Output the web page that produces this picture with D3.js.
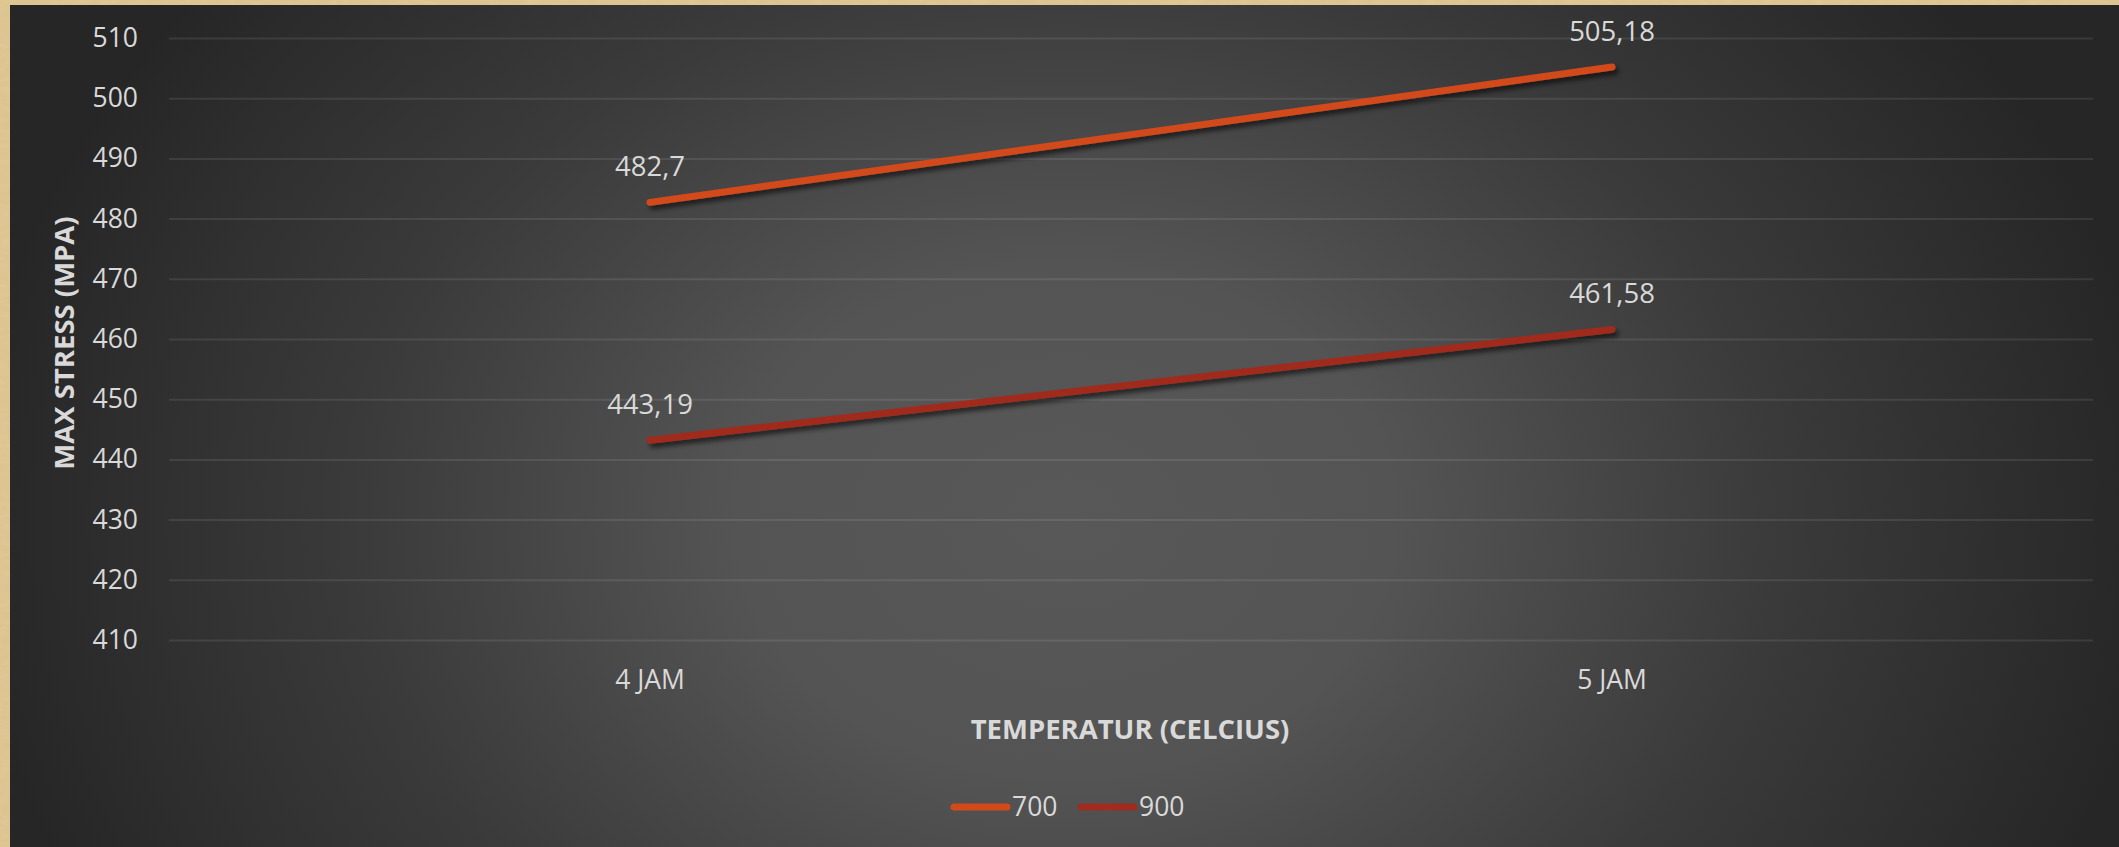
<!DOCTYPE html>
<html>
<head>
<meta charset="utf-8">
<script src="https://cdn.jsdelivr.net/npm/d3@7"></script>
<style>
  html, body { margin: 0; padding: 0; background: #d9c08a; }
  svg { display: block; }
</style>
</head>
<body>
<svg id="chart" width="2119" height="847"></svg>
<script>
// Chart data
const categories = ["4 JAM", "5 JAM"];
const seriesNames = ["700", "900"];
const values700 = [482.7, 505.18];
const values900 = [443.19, 461.58];
const valueLabels700 = ["482,7", "505,18"];
const valueLabels900 = ["443,19", "461,58"];
const yTicks = [410, 420, 430, 440, 450, 460, 470, 480, 490, 500, 510];
const yTitle = "MAX STRESS (MPA)";
const xTitle = "TEMPERATUR (CELCIUS)";

const series = [
  { name: seriesNames[0], values: values700, labels: valueLabels700, color: "#d24a1a" },
  { name: seriesNames[1], values: values900, labels: valueLabels900, color: "#a02c1f" }
];

const W = 2119, H = 847;
const svg = d3.select("#chart");
const defs = svg.append("defs");

// parchment frame texture
const tex = defs.append("filter").attr("id", "paper").attr("x", 0).attr("y", 0).attr("width", 1).attr("height", 1);
tex.append("feTurbulence").attr("type", "fractalNoise").attr("baseFrequency", "0.08 0.25").attr("numOctaves", 3).attr("seed", 4).attr("result", "n");
tex.append("feColorMatrix").attr("in", "n").attr("type", "matrix")
  .attr("values", "0 0 0 0 0.6  0 0 0 0 0.48  0 0 0 0 0.25  0 0 0 0.45 0").attr("result", "c");
tex.append("feComposite").attr("in", "c").attr("in2", "SourceGraphic").attr("operator", "over");

// chart background gradient
const bg = defs.append("radialGradient").attr("id", "bg")
  .attr("gradientUnits", "userSpaceOnUse")
  .attr("cx", 1065).attr("cy", 520).attr("r", 1100)
  .attr("gradientTransform", "translate(1065,520) scale(1,0.78) translate(-1065,-520)");
bg.append("stop").attr("offset", 0).attr("stop-color", "#585858");
bg.append("stop").attr("offset", 0.3).attr("stop-color", "#545454");
bg.append("stop").attr("offset", 0.65).attr("stop-color", "#3a3a3a");
bg.append("stop").attr("offset", 1).attr("stop-color", "#262626");

// line shadow
const sh = defs.append("filter").attr("id", "shadow").attr("x", "-10%").attr("y", "-50%").attr("width", "120%").attr("height", "200%");
sh.append("feDropShadow").attr("dx", 3).attr("dy", 4).attr("stdDeviation", 2.5)
  .attr("flood-color", "#000").attr("flood-opacity", 0.6);

svg.append("rect").attr("width", W).attr("height", H).attr("fill", "#e2c994").attr("filter", "url(#paper)");
svg.append("rect").attr("x", 10).attr("y", 5).attr("width", W - 10).attr("height", H - 5).attr("fill", "url(#bg)");

// plot area
const plot = { left: 169, right: 2093, top: 38, bottom: 640 };

const x = d3.scaleBand().domain(categories).range([plot.left, plot.right]).paddingInner(0).paddingOuter(0);
const y = d3.scaleLinear().domain([410, 510]).range([plot.bottom, plot.top]);

const textColor = "#d9d9d9";
const font = "'Open Sans', 'Noto Sans', sans-serif";

// gridlines and value axis
const yAxis = d3.axisLeft(y).tickValues(yTicks).tickSize(-(plot.right - plot.left)).tickPadding(31).tickFormat(d3.format("d"));
const gy = svg.append("g").attr("transform", `translate(${plot.left},0)`).call(yAxis);
gy.select(".domain").remove();
gy.selectAll(".tick line").attr("stroke", "rgba(255,255,255,0.09)").attr("stroke-width", 2);
gy.selectAll(".tick text").attr("fill", textColor).attr("font-family", font).attr("font-size", 26.5);

// category axis
const xAxis = d3.axisBottom(x).tickSize(0).tickPadding(30);
const gx = svg.append("g").attr("transform", `translate(0,${plot.bottom})`).call(xAxis);
gx.select(".domain").remove();
gx.selectAll(".tick text").attr("fill", textColor).attr("font-family", font).attr("font-size", 26.5);

// axis titles
svg.append("text").attr("x", 1130).attr("y", 739).attr("text-anchor", "middle")
  .attr("fill", textColor).attr("font-family", font).attr("font-weight", 700).attr("font-size", 27.5)
  .text(xTitle);
svg.append("text").attr("transform", `translate(74,343) rotate(-90)`).attr("text-anchor", "middle")
  .attr("fill", textColor).attr("font-family", font).attr("font-weight", 700).attr("font-size", 27.5)
  .text(yTitle);

// lines
const line = d3.line().x((d, i) => x(categories[i]) + x.bandwidth() / 2).y(d => y(d));
series.forEach(s => {
  svg.append("path").datum(s.values).attr("d", line)
    .attr("fill", "none").attr("stroke", s.color).attr("stroke-width", 7)
    .attr("stroke-linecap", "round").attr("filter", "url(#shadow)");
});

// data labels
series.forEach(s => {
  svg.append("g").selectAll("text").data(s.values).join("text")
    .attr("x", (d, i) => x(categories[i]) + x.bandwidth() / 2)
    .attr("y", d => y(d) - 26)
    .attr("text-anchor", "middle")
    .attr("fill", textColor).attr("font-family", font).attr("font-size", 27.5)
    .text((d, i) => s.labels[i]);
});

// legend
const legendX = [952, 1079];
const lg = svg.append("g");
series.forEach((s, i) => {
  const g = lg.append("g").attr("transform", `translate(${legendX[i]},807)`);
  g.append("line").attr("x1", 2).attr("x2", 55).attr("y1", 0).attr("y2", 0)
    .attr("stroke", s.color).attr("stroke-width", 7).attr("stroke-linecap", "round");
  g.append("text").attr("x", 60).attr("y", 9).attr("fill", textColor)
    .attr("font-family", font).attr("font-size", 26.5).text(s.name);
});
</script>
</body>
</html>
